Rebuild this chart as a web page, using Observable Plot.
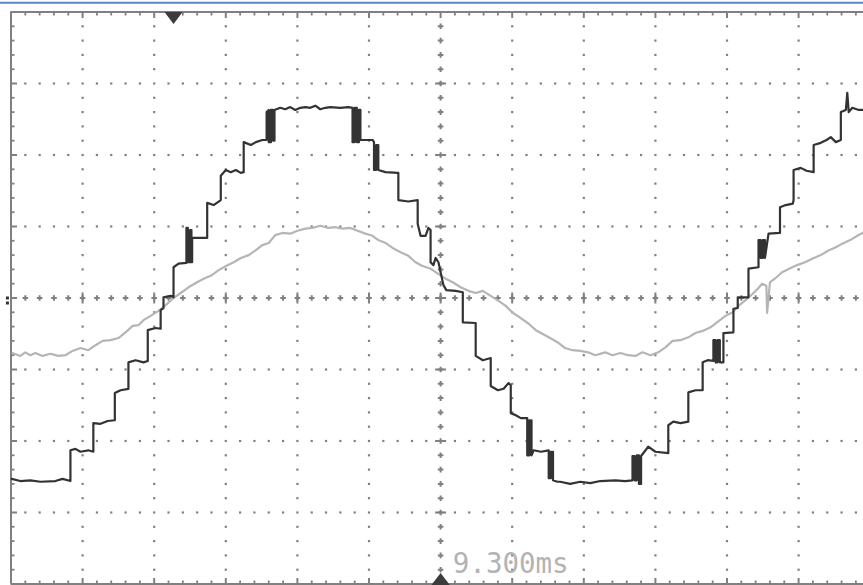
<!DOCTYPE html>
<html><head><meta charset="utf-8">
<script src="https://cdn.jsdelivr.net/npm/d3@7"></script>
<script src="https://cdn.jsdelivr.net/npm/@observablehq/plot@0.6"></script>
<style>
html,body{margin:0;padding:0;background:#fff;overflow:hidden}
#chart{width:863px;height:585px;overflow:hidden}
#chart svg{overflow:hidden;max-width:none}
</style>
</head><body><div id="chart"></div>
<script>
// Oscilloscope screen: [time (div), level (div)], x 0..12 div, y -4..4 div
// CH1 (dark): stepped multilevel waveform
const ch1 = [
[0.01,-2.53],[0.13,-2.56],[0.27,-2.55],[0.41,-2.57],[0.62,-2.56],[0.72,-2.53],[0.83,-2.56],
[0.83,-2.13],[0.90,-2.11],[0.97,-2.15],[1.08,-2.13],[1.15,-2.15],
[1.15,-1.75],[1.25,-1.76],[1.35,-1.72],[1.45,-1.71],
[1.45,-1.33],[1.53,-1.29],[1.64,-1.27],
[1.64,-0.90],[1.74,-0.87],[1.85,-0.90],[1.91,-0.88],
[1.91,-0.45],[2.02,-0.42],[2.09,-0.43],
[2.09,-0.17],[2.13,-0.14],
[2.13,0.01],[2.23,0.03],[2.27,0.01],
[2.27,0.43],[2.34,0.48],[2.45,0.49],
[2.45,0.98],[2.47,0.98],[2.47,0.50],[2.50,0.50],[2.50,0.95],[2.52,0.95],[2.52,0.50],[2.53,0.50],[2.53,0.84],
[2.65,0.84],[2.74,0.84],
[2.74,1.33],[2.83,1.30],[2.93,1.37],
[2.93,1.71],[3.00,1.79],[3.07,1.76],[3.14,1.79],[3.21,1.75],[3.25,1.76],
[3.25,2.18],[3.35,2.14],[3.42,2.18],[3.51,2.21],[3.57,2.21],
[3.57,2.60],[3.60,2.63],[3.60,2.18],[3.63,2.18],[3.63,2.63],[3.66,2.63],[3.66,2.20],[3.68,2.20],[3.68,2.63],
[3.76,2.66],[3.83,2.64],[3.90,2.67],[3.97,2.63],[4.04,2.66],[4.11,2.67],[4.18,2.66],[4.25,2.69],[4.32,2.64],[4.39,2.66],[4.46,2.67],[4.60,2.66],[4.71,2.67],[4.77,2.66],
[4.77,2.18],[4.80,2.18],[4.80,2.66],[4.83,2.66],[4.83,2.18],[4.86,2.18],[4.86,2.63],[4.88,2.63],[4.88,2.21],[5.05,2.21],
[5.07,2.18],[5.07,1.79],[5.10,1.79],[5.10,2.14],[5.13,2.14],[5.13,1.79],[5.23,1.76],[5.40,1.75],[5.41,1.75],
[5.41,1.37],[5.55,1.35],[5.68,1.37],
[5.68,1.04],[5.72,0.87],[5.79,0.87],[5.83,0.98],[5.86,0.95],
[5.86,0.50],[5.90,0.46],[5.93,0.56],[5.97,0.50],[6.00,0.36],[6.04,0.18],[6.08,0.11],[6.21,0.10],[6.31,0.08],
[6.31,-0.34],[6.49,-0.35],
[6.49,-0.81],[6.59,-0.87],[6.70,-0.84],
[6.70,-1.23],[6.80,-1.29],[6.88,-1.27],[6.95,-1.19],[6.98,-1.22],
[6.98,-1.61],[7.05,-1.64],[7.12,-1.68],[7.21,-1.68],
[7.21,-2.20],[7.24,-2.20],[7.24,-1.71],[7.27,-1.71],[7.27,-2.20],[7.30,-2.13],[7.40,-2.15],[7.51,-2.13],
[7.51,-2.52],[7.54,-2.52],[7.54,-2.15],[7.57,-2.15],[7.57,-2.55],[7.63,-2.57],[7.67,-2.57],[7.81,-2.60],[7.95,-2.57],[8.09,-2.59],[8.23,-2.56],
[8.44,-2.55],[8.58,-2.56],[8.68,-2.55],
[8.68,-2.21],[8.71,-2.21],[8.71,-2.55],[8.74,-2.55],[8.74,-2.20],[8.77,-2.20],[8.77,-2.60],[8.80,-2.60],[8.80,-2.21],[8.90,-2.08],[9.00,-2.15],[9.18,-2.17],
[9.18,-1.78],[9.25,-1.73],[9.35,-1.75],[9.46,-1.73],
[9.46,-1.32],[9.56,-1.29],[9.66,-1.29],
[9.66,-0.90],[9.73,-0.87],[9.81,-0.88],
[9.81,-0.59],[9.84,-0.59],[9.84,-0.90],[9.87,-0.90],[9.87,-0.59],[9.90,-0.59],[9.90,-0.90],[9.95,-0.90],
[9.95,-0.49],[10.09,-0.48],
[10.09,-0.15],[10.15,-0.14],
[10.15,0.01],[10.30,0.01],
[10.30,0.41],[10.44,0.43],
[10.44,0.81],[10.47,0.81],[10.47,0.56],[10.50,0.56],[10.50,0.81],[10.53,0.81],[10.53,0.56],[10.58,0.90],[10.74,0.91],
[10.74,1.27],[10.82,1.30],[10.92,1.32],[10.93,1.37],
[10.93,1.79],[11.03,1.82],[11.11,1.78],[11.21,1.76],
[11.21,2.14],[11.31,2.17],[11.39,2.21],[11.45,2.25],[11.52,2.18],[11.59,2.21],
[11.59,2.60],[11.66,2.63],[11.68,2.87],[11.70,2.60],[11.75,2.66],[11.84,2.63],[11.91,2.63]
];

// CH2 (light): noisy sine
const ch2 = [
[0.02,-0.77],[0.13,-0.81],[0.20,-0.76],[0.27,-0.80],[0.34,-0.77],[0.44,-0.81],[0.55,-0.78],[0.66,-0.81],[0.76,-0.80],[0.86,-0.74],
[0.97,-0.70],[1.08,-0.73],[1.18,-0.66],[1.28,-0.60],[1.39,-0.59],[1.50,-0.56],[1.60,-0.48],[1.70,-0.39],[1.78,-0.38],[1.85,-0.31],
[1.95,-0.25],[2.06,-0.18],[2.16,-0.10],[2.26,-0.01],[2.37,0.07],[2.48,0.15],[2.58,0.21],[2.69,0.27],[2.79,0.31],[2.90,0.39],
[3.01,0.45],[3.11,0.50],[3.21,0.56],[3.32,0.60],[3.42,0.67],[3.51,0.74],[3.60,0.77],[3.69,0.88],[3.79,0.91],[3.90,0.90],
[4.00,0.94],[4.11,0.97],[4.21,0.98],[4.32,1.01],[4.43,0.98],[4.53,0.99],[4.63,0.97],[4.74,0.98],[4.84,0.94],[4.95,0.90],
[5.05,0.87],[5.13,0.81],[5.23,0.77],[5.33,0.70],[5.44,0.64],[5.55,0.59],[5.65,0.50],[5.74,0.45],[5.86,0.41],[5.96,0.34],
[6.07,0.27],[6.17,0.22],[6.28,0.15],[6.39,0.10],[6.49,0.07],[6.59,0.10],[6.70,0.03],[6.81,-0.04],[6.91,-0.11],[7.00,-0.20],
[7.12,-0.28],[7.23,-0.36],[7.33,-0.45],[7.42,-0.50],[7.53,-0.56],[7.65,-0.63],[7.74,-0.70],[7.84,-0.73],[7.95,-0.74],[8.06,-0.76],
[8.16,-0.80],[8.30,-0.76],[8.40,-0.80],[8.51,-0.77],[8.62,-0.80],[8.72,-0.81],[8.82,-0.76],[8.93,-0.80],[9.04,-0.76],[9.14,-0.69],
[9.24,-0.60],[9.35,-0.59],[9.46,-0.55],[9.56,-0.49],[9.66,-0.46],[9.77,-0.41],[9.86,-0.34],[9.98,-0.25],[10.08,-0.20],[10.16,-0.11],
[10.26,-0.03],[10.36,0.06],[10.44,0.14],[10.49,0.20],[10.55,0.17],[10.56,-0.21],[10.60,0.22],[10.68,0.28],[10.77,0.36],[10.89,0.42],
[10.98,0.46],[11.09,0.50],[11.19,0.55],[11.31,0.60],[11.41,0.66],[11.52,0.71],[11.61,0.76],[11.72,0.81],[11.82,0.87],[11.91,0.92]
];

const timeLabel = "9.300ms";
const labelPos = {x: 6.17, y: -3.85};
const triggerPos = 2.27;   // top marker (divisions)
const centerTime = 6;      // bottom marker
const blueLineY = 4.13;

const dark = ch1.map(([x, y]) => ({x, y}));
const light = ch2.map(([x, y]) => ({x, y}));

const fifth = n => d3.range(1, n).map(k => k / 5);
const gridCol = "#808080";
const isMajor = v => Math.abs(v - Math.round(v)) < 1e-6;

// dotted grid
const gridDots = [];
for (const gx of [1,2,3,4,5,7,8,9,10,11]) for (const v of fifth(40)) gridDots.push({x: gx, y: v - 4});
for (const gy of [-3,-2,-1,1,2,3]) for (const v of fifth(60)) if (!isMajor(v)) gridDots.push({x: v, y: gy});

// center axes crosses
const crossH = fifth(60).map(v => ({x: v, y: 0}));
const crossV = fifth(40).map(v => ({x: 6, y: v - 4}));

const seg = (x1, y1, x2, y2) => ({draw(c){ c.moveTo(x1, y1); c.lineTo(x2, y2); }});
const plus = s => ({draw(c){ c.moveTo(-s, 0); c.lineTo(s, 0); c.moveTo(0, -s); c.lineTo(0, s); }});
const sq = s => ({draw(c){ c.rect(-s/2, -s/2, s, s); }});
const triDown = {draw(c){ c.moveTo(-9, 0); c.lineTo(9, 0); c.lineTo(0, 12); c.closePath(); }};
const triUp = {draw(c){ c.moveTo(-10, 2); c.lineTo(10, 2); c.lineTo(0, -11); c.closePath(); }};

const edgeX = fifth(60);
const edgeY = fifth(40).map(v => v - 4);

const plot = Plot.plot({
  width: 863, height: 585, margin: 0,
  style: {background: "#fff"},
  x: {domain: [0, 12], range: [10.5, 869.7], axis: null},
  y: {domain: [-4, 4], range: [583.5, 11.5], axis: null},
  marks: [
    Plot.ruleY([blueLineY], {stroke: "#5a86c6", strokeWidth: 2}),
    Plot.dot(gridDots, {x: "x", y: "y", symbol: sq(2.2), fill: gridCol, stroke: "none"}),
    Plot.dot(crossH, {x: "x", y: "y", symbol: plus(2.8), stroke: gridCol, strokeWidth: 2}),
    Plot.dot(crossV, {x: "x", y: "y", symbol: plus(2.8), stroke: gridCol, strokeWidth: 2}),
    Plot.dot(crossH.filter(d => isMajor(d.x)), {x: "x", y: "y", symbol: seg(0, -5.5, 0, 5.5), stroke: gridCol, strokeWidth: 2}),
    Plot.dot(crossV.filter(d => isMajor(d.y)), {x: "x", y: "y", symbol: seg(-5.5, 0, 5.5, 0), stroke: gridCol, strokeWidth: 2}),
    // frame
    Plot.ruleY([4, -4], {x1: 0, x2: 12, stroke: gridCol, strokeWidth: 2}),
    Plot.ruleX([0], {y1: -4, y2: 4, stroke: gridCol, strokeWidth: 2}),
    // edge ticks
    Plot.dot(edgeX.filter(v => !isMajor(v)), {x: d => d, y: () => 4, symbol: seg(0, 0, 0, 3.5), stroke: gridCol, strokeWidth: 1.8}),
    Plot.dot(edgeX.filter(isMajor), {x: d => d, y: () => 4, symbol: seg(0, 0, 0, 6), stroke: gridCol, strokeWidth: 2}),
    Plot.dot(edgeX.filter(v => !isMajor(v)), {x: d => d, y: () => -4, symbol: seg(0, 0, 0, -3.5), stroke: gridCol, strokeWidth: 1.8}),
    Plot.dot(edgeX.filter(isMajor), {x: d => d, y: () => -4, symbol: seg(0, 0, 0, -6), stroke: gridCol, strokeWidth: 2}),
    Plot.dot(edgeY.filter(v => !isMajor(v)), {x: () => 0, y: d => d, symbol: seg(0, 0, 3.5, 0), stroke: gridCol, strokeWidth: 1.8}),
    Plot.dot(edgeY.filter(isMajor), {x: () => 0, y: d => d, symbol: seg(0, 0, 6, 0), stroke: gridCol, strokeWidth: 2}),
    // traces
    Plot.line(light, {x: "x", y: "y", stroke: "#b5b5b5", strokeWidth: 2.2}),
    Plot.line(dark, {x: "x", y: "y", stroke: "#333333", strokeWidth: 2.2}),
    // markers
    Plot.dot([triggerPos], {x: d => d, y: () => 4, symbol: triDown, fill: "#3c3c3c", stroke: "none"}),
    Plot.dot([centerTime], {x: d => d, y: () => -4, symbol: triUp, fill: "#3c3c3c", stroke: "none"}),
    Plot.dot([0, -0.07], {x: () => -0.05, y: d => d, symbol: sq(3), fill: "#333", stroke: "none"}),
    Plot.text([timeLabel], {x: () => labelPos.x, y: () => labelPos.y, text: d => d, textAnchor: "start", lineAnchor: "bottom",
      fontFamily: "DejaVu Sans Mono", fontSize: 27.5, fill: "#b3b3b3"})
  ]
});
document.getElementById("chart").appendChild(plot);
</script>
</body></html>
